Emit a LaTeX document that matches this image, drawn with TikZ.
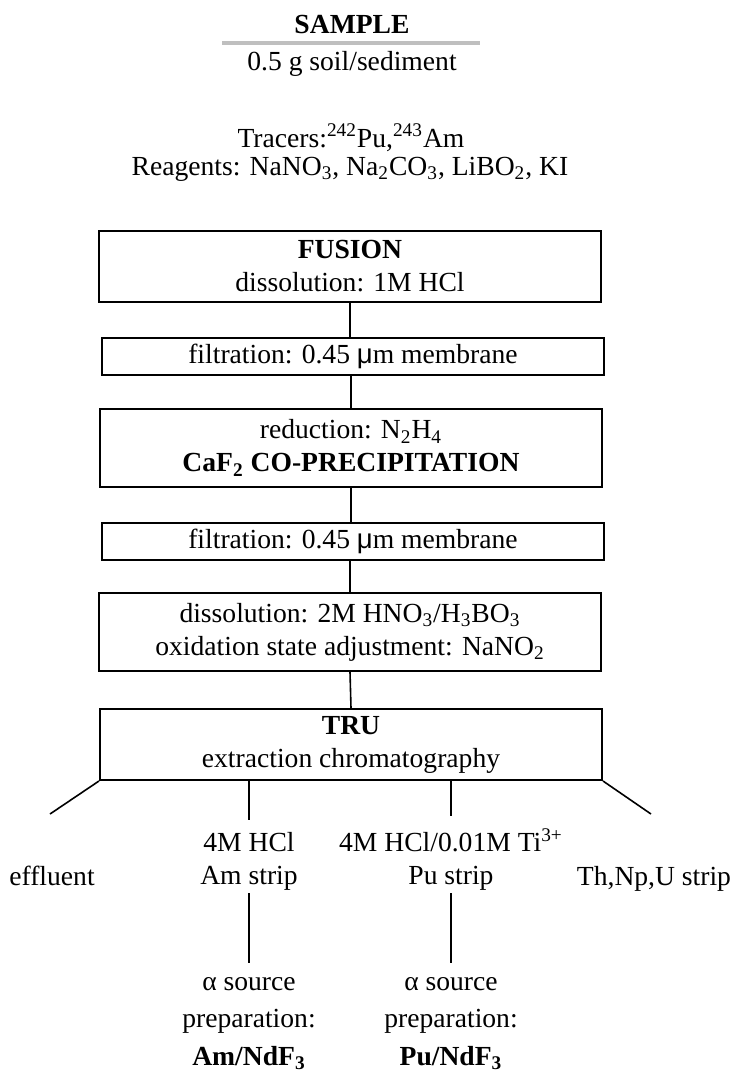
\documentclass[tikz,border=0pt]{standalone}
\usepackage{fontspec}
\setmainfont{Liberation Serif}
\newfontfamily\symb{Liberation Sans}

\tikzset{
  stepbox/.style={draw, line width=1pt, minimum width=251pt, align=center, inner sep=2pt},
  txt/.style={align=center, inner sep=0pt},
  src/.style={txt, font=\fontsize{13.8}{18.75}\selectfont},
}

\begin{document}
\begin{tikzpicture}[x=0.5pt,y=-0.5pt,font=\fontsize{13.8}{16.5}\selectfont]
\useasboundingbox (0,0) rectangle (735,1072);

\node[txt,anchor=base] (sample) at (352,33) {\textbf{SAMPLE}};
\coordinate (rulel) at (222,42.5);
\coordinate (ruler) at (480,42.5);
\node[txt,anchor=base] (soil) at (352,70) {0.5 g soil/sediment};
\node[txt,anchor=base] (tracers) at (351,147) {Tracers:\textsuperscript{242}Pu,\textsuperscript{243}Am};
\node[txt,anchor=base] (reagents) at (350,175) {Reagents: NaNO\textsubscript{3}, Na\textsubscript{2}CO\textsubscript{3}, LiBO\textsubscript{2}, KI};

\node[stepbox, minimum height=35.5pt] (fusion) at (350,266.5) {\textbf{FUSION}\\dissolution: 1M HCl};
\node[stepbox, minimum height=18.5pt] (filt1) at (353,356.5) {filtration: 0.45 {\symb μ}m membrane};
\node[stepbox, minimum height=39pt] (redu) at (351,448) {reduction: N\textsubscript{2}H\textsubscript{4}\\\textbf{CaF\textsubscript{2} CO-PRECIPITATION}};
\node[stepbox, minimum height=18.5pt] (filt2) at (353,541.5) {filtration: 0.45 {\symb μ}m membrane};
\node[stepbox, minimum height=39pt] (diss) at (350,632) {dissolution: 2M HNO\textsubscript{3}/H\textsubscript{3}BO\textsubscript{3}\\oxidation state adjustment: NaNO\textsubscript{2}};
\node[stepbox, minimum height=35.5pt] (tru) at (351,744.5) {\textbf{TRU}\\extraction chromatography};

\node[txt,anchor=base] (effluent) at (52,885) {effluent};
\node[txt,anchor=south] (amstrip) at (249,891) {4M HCl\\Am strip};
\node[txt,anchor=south] (pustrip) at (451,891) {4M HCl/0.01M Ti\textsuperscript{3+}\\Pu strip};
\node[txt,anchor=base] (thstrip) at (654,885) {Th,Np,U strip};
\coordinate (efflend) at (50,814);
\coordinate (thend) at (651,814);

\node[src,anchor=south] (amsrc) at (249,1070) {α source\\preparation:\\\textbf{Am/NdF\textsubscript{3}}};
\node[src,anchor=south] (pusrc) at (451,1070) {α source\\preparation:\\\textbf{Pu/NdF\textsubscript{3}}};

\path[draw,gray!50,line width=2pt] (rulel) -- (ruler);

\path[draw,thick,-] (fusion.south) -- (fusion.south |- filt1.north);
\path[draw,thick,-] (redu.north) -- (redu.north |- filt1.south);
\path[draw,thick,-] (redu.south) -- (redu.south |- filt2.north);
\path[draw,thick,-] (diss.north) -- (diss.north |- filt2.south);
\path[draw,thick,-] (diss.south) -- (tru.north);

\path[draw,thick,-] (tru.south west) -- (efflend);
\path[draw,thick,-] (tru.south east) -- (thend);
\path[draw,thick,-] (tru.south -| amstrip.north) -- ([yshift=6pt]amstrip.north);
\path[draw,thick,-] (tru.south -| pustrip.north) -- ([yshift=6pt]pustrip.north);
\path[draw,thick,-] ([yshift=-1pt]amstrip.south) -- ([yshift=7pt]amsrc.north);
\path[draw,thick,-] ([yshift=-1pt]pustrip.south) -- ([yshift=7pt]pusrc.north);
\end{tikzpicture}
\end{document}
